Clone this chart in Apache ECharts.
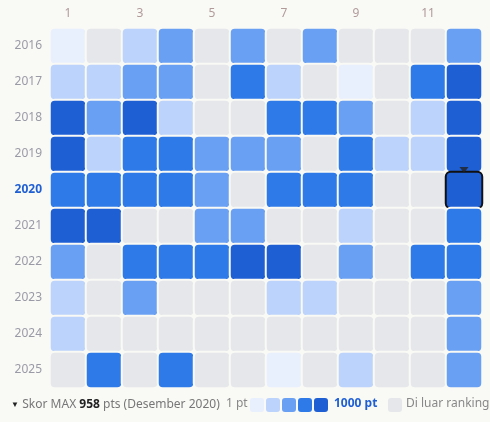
<!DOCTYPE html>
<html><head><meta charset="utf-8">
<script src="https://cdn.jsdelivr.net/npm/echarts@6/dist/echarts.min.js"></script>
<style>html,body{margin:0;background:#f9f9f6}#c{width:490px;height:422px}</style>
</head><body><div id="c"></div>
<script>
const months = ['1','2','3','4','5','6','7','8','9','10','11','12'];
const years = ['2016','2017','2018','2019','2020','2021','2022','2023','2024','2025'];
// points per month (0 = outside ranking)
const y2016 = [40,0,200,420,0,420,0,420,0,0,0,420];
const y2017 = [200,200,420,420,0,650,200,0,40,0,650,880];
const y2018 = [870,420,880,200,0,0,650,650,420,0,200,870];
const y2019 = [860,200,650,650,420,420,420,0,650,200,200,880];
const y2020 = [650,650,650,650,420,0,650,650,650,0,0,958];
const y2021 = [870,870,0,0,420,420,0,0,200,0,0,650];
const y2022 = [420,0,650,650,650,870,870,0,420,0,650,650];
const y2023 = [200,0,420,0,0,0,200,200,0,0,0,420];
const y2024 = [200,0,0,0,0,0,0,0,0,0,0,420];
const y2025 = [0,650,0,650,0,0,40,0,200,0,0,420];
const rows = [y2016,y2017,y2018,y2019,y2020,y2021,y2022,y2023,y2024,y2025];
const colors = ['#e8effd','#bcd3fb','#6aa0f3','#2f7ae9','#1f5fd4'];
const gray = '#e6e7ea';
const bg = '#f9f9f6';
const data = [];
rows.forEach((r, yi) => r.forEach((v, mi) => {
  const item = {value: [mi, yi, v]};
  if (yi === 4 && mi === 11) item.itemStyle = {borderColor: '#111', borderWidth: 2};
  data.push(item);
}));
const chart = echarts.init(document.getElementById('c'));
const ff = 'Noto Sans';
chart.setOption({
  backgroundColor: bg,
  animation: false,
  grid: {left: 50, right: 8, top: 28, bottom: 34},
  xAxis: {type: 'category', data: months, position: 'top', axisLine: {show: false}, axisTick: {show: false}, splitLine: {show: false},
    axisLabel: {fontFamily: ff, fontSize: 12, margin: 8, color: (v) => v === '12' ? '#1f5fd4' : '#b09a9a',
      formatter: (v) => v === '12' ? '{b|12}' : v, rich: {b: {fontWeight: 'bold', color: '#1f5fd4', fontFamily: ff, fontSize: 12}}}},
  yAxis: {type: 'category', data: years, inverse: true, axisLine: {show: false}, axisTick: {show: false},
    axisLabel: {fontFamily: ff, fontSize: 12, margin: 8, color: '#9a9aa6',
      formatter: (v) => v === '2020' ? '{b|2020}' : v, rich: {b: {fontWeight: 'bold', color: '#1f5fd4', fontFamily: ff, fontSize: 12}}}},
  visualMap: {show: false, type: 'piecewise', dimension: 2, seriesIndex: 0, pieces: [
    {max: 0.5, color: gray}, {min: 0.5, max: 100, color: colors[0]}, {min: 100, max: 300, color: colors[1]},
    {min: 300, max: 550, color: colors[2]}, {min: 550, max: 750, color: colors[3]}, {min: 750, color: colors[4]}]},
  series: [{type: 'heatmap', data: data, itemStyle: {borderColor: bg, borderWidth: 2, borderRadius: 5}},
    {type: 'scatter', data: [[11, 4]], symbol: 'triangle', symbolRotate: 180, symbolSize: [9, 6], symbolOffset: [0, -20], itemStyle: {color: '#222'}, z: 5}],
  graphic: [
    {type: 'text', left: 11, top: 399, style: {text: '{t|▼} {g|Skor MAX }{k|958}{g| pts (Desember 2020)}', rich: {
      t: {fontSize: 8, fill: '#222', fontFamily: ff}, g: {fill: '#777', fontSize: 12, fontFamily: ff}, k: {fill: '#222', fontWeight: 'bold', fontSize: 12, fontFamily: ff}}}},
    {type: 'text', left: 226, top: 398, style: {text: '1 pt', fill: '#888', fontSize: 12, fontFamily: ff}},
    ...colors.map((c, i) => ({type: 'rect', shape: {x: 250 + i * 16, y: 398, width: 14, height: 14, r: 3}, style: {fill: c}})),
    {type: 'text', left: 334, top: 398, style: {text: '1000 pt', fill: '#1f5fd4', fontWeight: 'bold', fontSize: 12, fontFamily: ff}},
    {type: 'rect', shape: {x: 388, y: 398, width: 14, height: 14, r: 3}, style: {fill: gray}},
    {type: 'text', left: 406, top: 398, style: {text: 'Di luar ranking', fill: '#888', fontSize: 12, fontFamily: ff}}
  ]
});
</script></body></html>
